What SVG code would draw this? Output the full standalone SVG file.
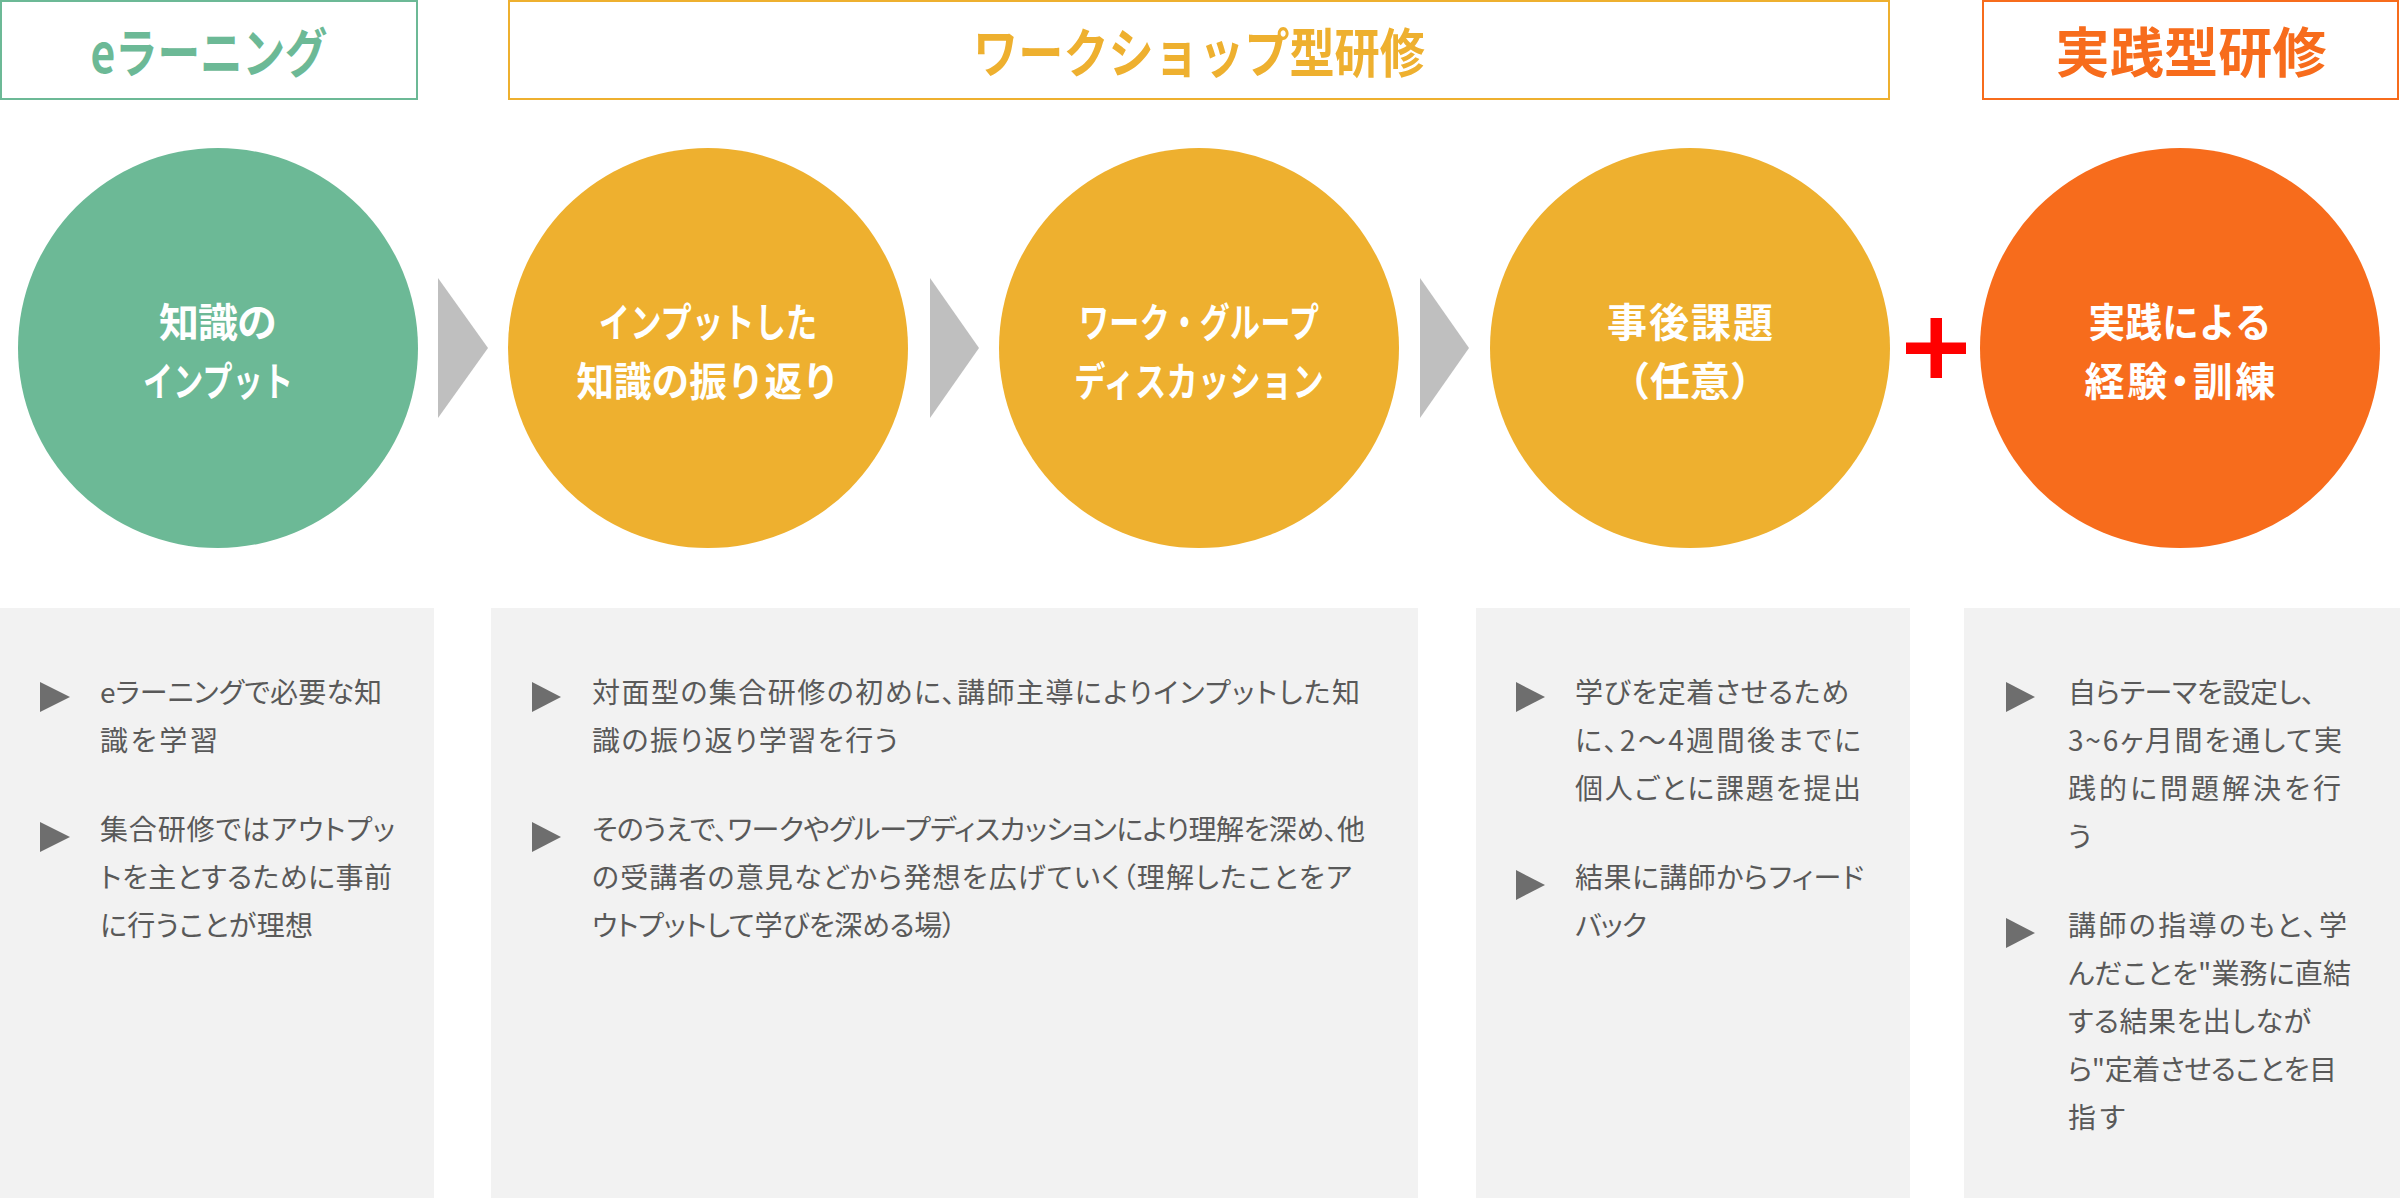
<svg xmlns="http://www.w3.org/2000/svg" width="2400" height="1198" viewBox="0 0 2400 1198">
<style>
text { font-family: "Noto Sans CJK JP", "Noto Sans", sans-serif; }
.hdr { font-size: 54px; font-weight: 700; text-anchor: middle; }
.ct { font-size: 40px; font-weight: 700; fill: #FFFFFF; text-anchor: middle; }
.pa { font-feature-settings: "palt"; }
.bt { font-size: 28px; font-weight: 400; fill: #595959; font-feature-settings: "palt"; }
.panel { fill: #F2F2F2; }
.bullet { fill: #6E6E6E; }
.chev { fill: #BFBFBF; }
</style>

<g id="header-elearning">
  <rect x="1" y="1" width="416" height="98" fill="#FFFFFF" stroke="#6CB996" stroke-width="2"/>
  <text class="hdr" transform="translate(209,73) scale(0.79,1)" x="0" y="0" fill="#6CB996" textLength="300" lengthAdjust="spacing">eラーニング</text>
</g>
<g id="header-workshop">
  <rect x="509" y="1" width="1380" height="98" fill="#FFFFFF" stroke="#EEB02F" stroke-width="2"/>
  <text class="hdr" transform="translate(1199,73) scale(0.837,1)" x="0" y="0" fill="#EEB02F" textLength="540" lengthAdjust="spacing">ワークショップ型研修</text>
</g>
<g id="header-practice">
  <rect x="1983" y="1" width="415" height="98" fill="#FFFFFF" stroke="#F76C1C" stroke-width="2"/>
  <text class="hdr" x="2191" y="73" fill="#F76C1C" textLength="271" lengthAdjust="spacing">実践型研修</text>
</g>

<g id="node-input">
  <circle cx="218" cy="348" r="200" fill="#6CB996"/>
  <text class="ct" x="218" y="337" textLength="118" lengthAdjust="spacing">知識の</text>
  <text class="ct" transform="translate(218,396) scale(0.75,1)" x="0" y="0" textLength="200" lengthAdjust="spacing">インプット</text>
</g>
<g id="node-review">
  <circle cx="708" cy="348" r="200" fill="#EEB02F"/>
  <text class="ct" transform="translate(708,337) scale(0.78,1)" x="0" y="0" textLength="280" lengthAdjust="spacing">インプットした</text>
  <text class="ct" transform="translate(708,396) scale(0.94,1)" x="0" y="0" textLength="280" lengthAdjust="spacing">知識の振り返り</text>
</g>
<g id="node-work">
  <circle cx="1199" cy="348" r="200" fill="#EEB02F"/>
  <text class="ct" transform="translate(1199,337) scale(0.75,1)" x="0" y="0" textLength="320" lengthAdjust="spacing">ワーク・グループ</text>
  <text class="ct" transform="translate(1199,396) scale(0.78,1)" x="0" y="0" textLength="320" lengthAdjust="spacing">ディスカッション</text>
</g>
<g id="node-assignment">
  <circle cx="1690" cy="348" r="200" fill="#EEB02F"/>
  <text class="ct" x="1690" y="337" textLength="166" lengthAdjust="spacing">事後課題</text>
  <text class="ct" x="1690" y="396">（任意）</text>
</g>
<g id="node-practice">
  <circle cx="2180" cy="348" r="200" fill="#F76C1C"/>
  <text class="ct" transform="translate(2180,337) scale(0.915,1)" x="0" y="0" textLength="200" lengthAdjust="spacing">実践による</text>
  <text class="ct pa" x="2180" y="396" textLength="191" lengthAdjust="spacing">経験・訓練</text>
</g>

<g id="connectors">
  <polygon class="chev" points="438,278 488,348 438,418"/>
  <polygon class="chev" points="930,278 979,348 930,418"/>
  <polygon class="chev" points="1420,278 1469,348 1420,418"/>
  <g id="plus" fill="#FF0000">
    <rect x="1930.5" y="318" width="11.5" height="60"/>
    <rect x="1906" y="342.5" width="60" height="11.5"/>
  </g>
</g>

<g id="panel-elearning">
  <rect class="panel" x="0" y="608" width="434" height="590"/>
  <polygon class="bullet" points="40,682 70,697 40,712"/>
  <text class="bt" x="100" y="703" textLength="282" lengthAdjust="spacing">eラーニングで必要な知</text>
  <text class="bt" x="100" y="751" textLength="118" lengthAdjust="spacing">識を学習</text>
  <polygon class="bullet" points="40,822 70,837 40,852"/>
  <text class="bt" x="100" y="840" textLength="295" lengthAdjust="spacing">集合研修ではアウトプッ</text>
  <text class="bt" x="100" y="888" textLength="292" lengthAdjust="spacing">トを主とするために事前</text>
  <text class="bt" x="100" y="936" textLength="213" lengthAdjust="spacing">に行うことが理想</text>
</g>

<g id="panel-workshop">
  <rect class="panel" x="491" y="608" width="927" height="590"/>
  <polygon class="bullet" points="532,682 561,697 532,712"/>
  <text class="bt" x="592" y="703" textLength="768" lengthAdjust="spacing">対面型の集合研修の初めに、講師主導によりインプットした知</text>
  <text class="bt" x="592" y="751" textLength="306" lengthAdjust="spacing">識の振り返り学習を行う</text>
  <polygon class="bullet" points="532,822 561,837 532,852"/>
  <text class="bt" x="592" y="840" textLength="773" lengthAdjust="spacing">そのうえで、ワークやグループディスカッションにより理解を深め、他</text>
  <text class="bt" x="592" y="888" textLength="760" lengthAdjust="spacing">の受講者の意見などから発想を広げていく（理解したことをア</text>
  <text class="bt" x="592" y="936" textLength="364" lengthAdjust="spacing">ウトプットして学びを深める場）</text>
</g>

<g id="panel-assignment">
  <rect class="panel" x="1476" y="608" width="434" height="590"/>
  <polygon class="bullet" points="1516,682 1545,697 1516,712"/>
  <text class="bt" x="1575" y="703" textLength="274" lengthAdjust="spacing">学びを定着させるため</text>
  <text class="bt" x="1575" y="751" textLength="286" lengthAdjust="spacing">に、2〜4週間後までに</text>
  <text class="bt" x="1575" y="799" textLength="286" lengthAdjust="spacing">個人ごとに課題を提出</text>
  <polygon class="bullet" points="1516,870 1545,885 1516,900"/>
  <text class="bt" x="1575" y="888" textLength="289" lengthAdjust="spacing">結果に講師からフィード</text>
  <text class="bt" x="1575" y="936" textLength="72" lengthAdjust="spacing">バック</text>
</g>

<g id="panel-practice">
  <rect class="panel" x="1964" y="608" width="436" height="590"/>
  <polygon class="bullet" points="2006,682 2035,697 2006,712"/>
  <text class="bt" x="2068" y="703" textLength="247" lengthAdjust="spacing">自らテーマを設定し、</text>
  <text class="bt" x="2068" y="751" textLength="274" lengthAdjust="spacing">3~6ヶ月間を通して実</text>
  <text class="bt" x="2068" y="799" textLength="273" lengthAdjust="spacing">践的に問題解決を行</text>
  <text class="bt" x="2068" y="847">う</text>
  <polygon class="bullet" points="2006,918 2035,933 2006,948"/>
  <text class="bt" x="2068" y="936" textLength="279" lengthAdjust="spacing">講師の指導のもと、学</text>
  <text class="bt" x="2068" y="984" textLength="283" lengthAdjust="spacing">んだことを"業務に直結</text>
  <text class="bt" x="2068" y="1032" textLength="243" lengthAdjust="spacing">する結果を出しなが</text>
  <text class="bt" x="2068" y="1080" textLength="269" lengthAdjust="spacing">ら"定着させることを目</text>
  <text class="bt" x="2068" y="1128" textLength="57" lengthAdjust="spacing">指す</text>
</g>
</svg>
